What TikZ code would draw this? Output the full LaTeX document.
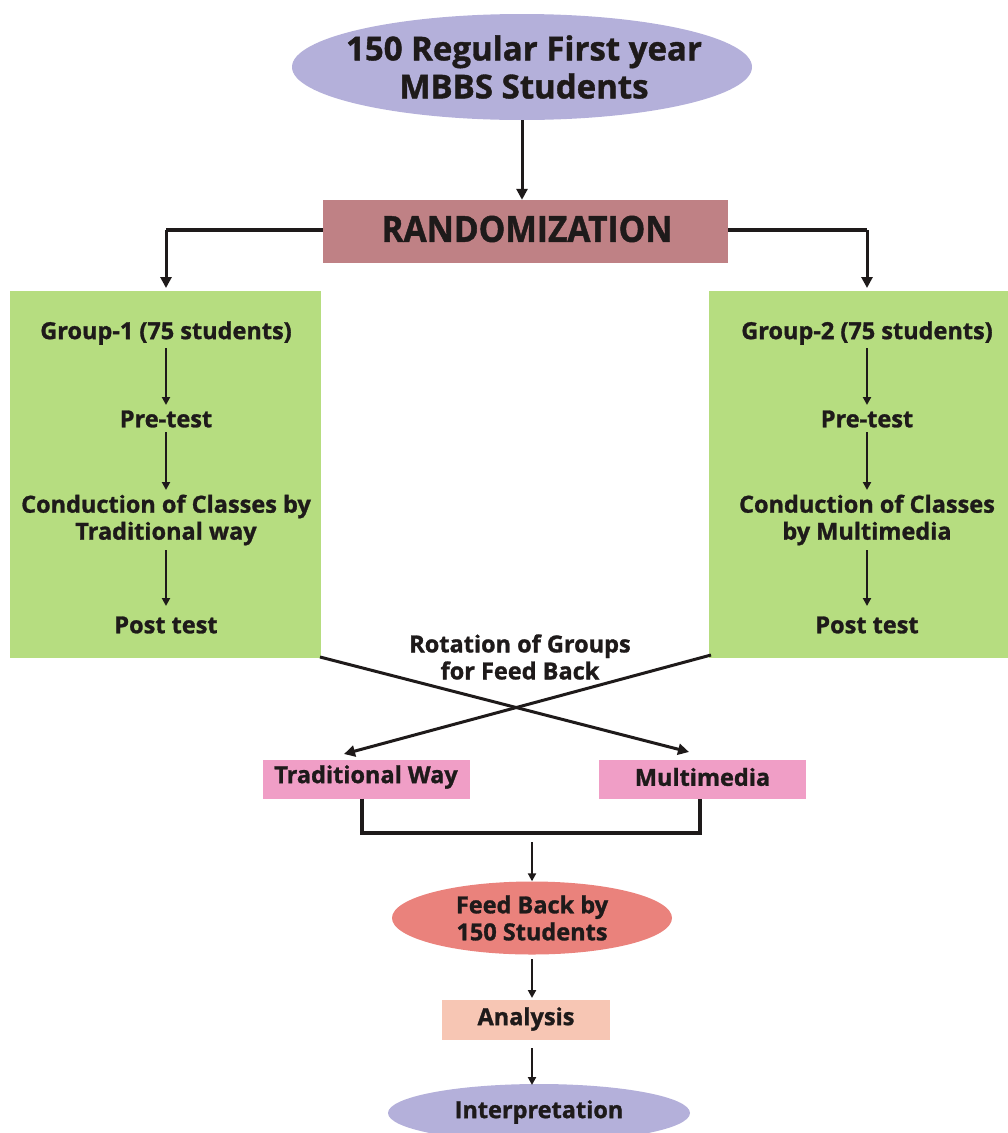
\documentclass[tikz,border=0pt]{standalone}
\usepackage{fontspec}
\setmainfont{Open Sans}[BoldFeatures={FakeBold=1.2}]
\usetikzlibrary{shapes.geometric,arrows.meta}
\definecolor{lav}{RGB}{180,176,218}
\definecolor{rosy}{RGB}{191,129,133}
\definecolor{grn}{RGB}{182,221,128}
\definecolor{pnk}{RGB}{240,158,198}
\definecolor{salm}{RGB}{234,130,124}
\definecolor{peach}{RGB}{247,198,180}
\definecolor{ink}{RGB}{30,26,26}
\tikzset{
  txt/.style={font=\bfseries\fontsize{23.5}{27}\selectfont, text=ink, align=center, inner sep=0pt},
  arr/.style={-{Triangle[length=11pt,width=11pt]}, line width=3pt, draw=ink},
  thinarr/.style={-{Triangle[length=8pt,width=8pt]}, line width=2.2pt, draw=ink},
  ln/.style={line width=3.2pt, draw=ink},
}
\begin{document}
\begin{tikzpicture}[x=1pt,y=-1pt]
\useasboundingbox (0,0) rectangle (1008,1133);
% top ellipse
\node[ellipse, fill=lav, minimum width=460pt, minimum height=106pt, inner sep=0pt] (top) at (522,67) {};
\node[txt, font=\bfseries\fontsize{33}{38}\selectfont] (toptxt) at (524,67) {150 Regular First year\\MBBS Students};
% randomization
\node[fill=rosy, minimum width=405pt, minimum height=63pt, inner sep=0pt] (rand) at (525.5,231.5) {};
\node[txt] at (527,229) {\scalebox{0.93}[1]{\fontsize{36}{40}\selectfont RANDOMIZATION}};
\draw[arr] (top.south) -- (top.south |- rand.north);
% green boxes
\node[fill=grn, minimum width=311pt, minimum height=367pt, inner sep=0pt, anchor=north west] (g1) at (10,291) {};
\node[fill=grn, minimum width=300pt, minimum height=367pt, inner sep=0pt, anchor=north west] (g2) at (709,291) {};
\coordinate (g1top) at (166,288);
\coordinate (g2top) at (867,288);
\draw[ln] (rand.west |- 0,230) -- (166,230) coordinate (lc);
\draw[arr] (lc) -- (g1top);
\draw[ln] (rand.east |- 0,230) -- (867,230) coordinate (rc);
\draw[arr] (rc) -- (g2top);
% left column
\node[txt] (a1) at (166,333) {Group-1 (75 students)};
\node[txt] (a2) at (166,419) {Pre-test};
\node[txt] (a3) at (166,520) {Conduction of Classes by\\Traditional way};
\node[txt] (a4) at (166,625) {Post test};
\draw[thinarr] (166,348) -- (166,405);
\draw[thinarr] (166,432) -- (166,490);
\draw[thinarr] (166,550) -- (166,606);
% right column
\node[txt] (b1) at (867,333) {Group-2 (75 students)};
\node[txt] (b2) at (867,419) {Pre-test};
\node[txt] (b3) at (867,520) {Conduction of Classes\\by Multimedia};
\node[txt] (b4) at (867,625) {Post test};
\draw[thinarr] (867,348) -- (867,405);
\draw[thinarr] (867,432) -- (867,490);
\draw[thinarr] (867,550) -- (867,606);
% rotation text
\node[txt] (rot) at (520,657) {Rotation of Groups\\for Feed Back};
% pink boxes
\node[fill=pnk, minimum width=207pt, minimum height=39pt, inner sep=0pt] (tw) at (366,779) {};
\node[txt] at (366,777) {Traditional Way};
\node[fill=pnk, minimum width=207pt, minimum height=39pt, inner sep=0pt] (mm) at (702.5,779) {};
\node[txt] at (702.5,777) {Multimedia};
% crossing arrows
\coordinate (c1) at (320,657);
\coordinate (c2) at (711,655);
\draw[arr] (c1) -- (689,752);
\draw[arr] (c2) -- (344,754);
% join
\draw[ln] (362,798.5) -- (362,833) -- (700,833) -- (700,798.5);
% feedback ellipse
\node[ellipse, fill=salm, minimum width=280pt, minimum height=73pt, inner sep=0pt] (fb) at (532,918) {};
\node[txt] at (532,918) {Feed Back by\\150 Students};
\draw[thinarr] (532,842) -- (fb.north);
% analysis
\node[fill=peach, minimum width=168pt, minimum height=40pt, inner sep=0pt] (an) at (526,1020) {};
\node[txt] at (526,1019) {Analysis};
\draw[thinarr] (532,959) -- (532,998);
% interpretation
\node[ellipse, fill=lav, minimum width=302pt, minimum height=58pt, inner sep=0pt] (ip) at (539,1113) {};
\node[txt] at (539,1112) {Interpretation};
\draw[thinarr] (532,1048) -- (532,1085);
\end{tikzpicture}
\end{document}
